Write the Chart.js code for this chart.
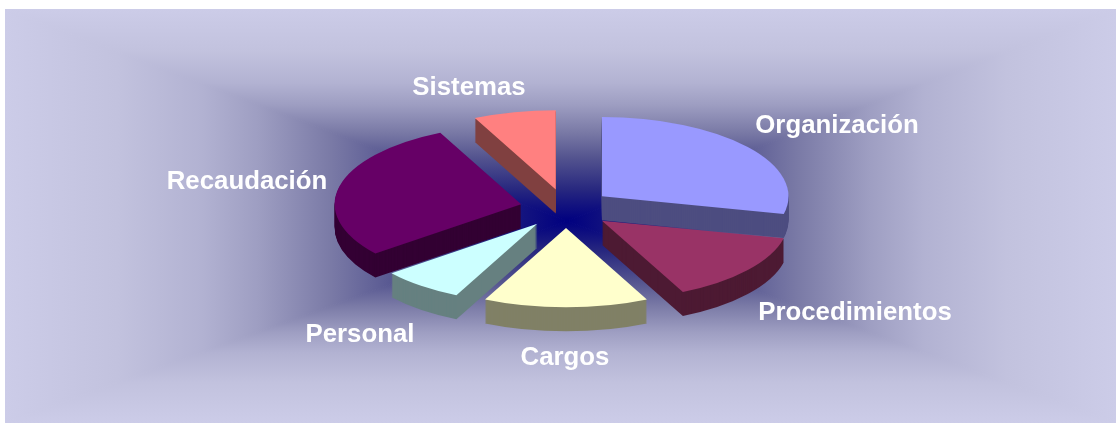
<!DOCTYPE html>
<html>
<head>
<meta charset="utf-8">
<title>Pie</title>
<script src="https://cdn.jsdelivr.net/npm/chart.js@4/dist/chart.umd.min.js"></script>
<style>
    html, body { margin: 0; padding: 0; background: #fff; }
    canvas { display: block; }
</style>
</head>
<body>
<canvas id="pie" width="1116" height="423"></canvas>
<script>
const categories = ['Organización', 'Procedimientos', 'Cargos', 'Personal', 'Recaudación', 'Sistemas'];
const values = [4, 2, 2, 1, 4, 1];
const topColors = ['#9999FF', '#993366', '#FFFFCC', '#CCFFFF', '#660066', '#FF8080'];
const sideColors = ['#4D4D80', '#4D1A33', '#808066', '#668080', '#330033', '#804040'];

// label centres, the original places them by hand too
const labelSpots = [[837, 126], [855, 313], [565, 358], [360, 335], [247, 182], [469, 88]];

const SQUASH = 0.425;
const DEPTH = 24;
const EXPLODE = 46;

// background: rectangular gradient running out of one point
const rampStops = [
    [0, '#000080'], [0.08, '#14147F'], [0.15, '#28287F'], [0.3, '#54548F'], [0.42, '#7A7AA6'],
    [0.55, '#9E9EC2'], [0.65, '#B2B2D2'], [0.8, '#C2C2DE'], [1, '#CCCCE8']
];

const panelPlugin = {
    id: 'panel',
    beforeDraw(chart) {
        const ctx = chart.ctx;
        const L = 5, T = 9, R = 1116, B = 423, fx = 567, fy = 221;
        const sides = [
            [[L, T], [R, T], [fx, T]],
            [[R, T], [R, B], [R, fy]],
            [[R, B], [L, B], [fx, B]],
            [[L, B], [L, T], [L, fy]]
        ];
        ctx.save();
        ctx.fillStyle = '#fff';
        ctx.fillRect(0, 0, chart.width, chart.height);
        ctx.beginPath();
        ctx.rect(L, T, R - L, B - T);
        ctx.clip();
        sides.forEach(([a, b, end]) => {
            const grad = ctx.createLinearGradient(fx, fy, end[0], end[1]);
            rampStops.forEach(s => grad.addColorStop(s[0], s[1]));
            ctx.fillStyle = grad;
            ctx.strokeStyle = grad; // hides the seam between triangles
            ctx.lineWidth = 1;
            ctx.beginPath();
            ctx.moveTo(fx, fy);
            ctx.lineTo(a[0], a[1]);
            ctx.lineTo(b[0], b[1]);
            ctx.closePath();
            ctx.fill();
            ctx.stroke();
        });
        ctx.restore();
    }
};

// flattens the pie, stacks the side walls, then lets each arc draw itself pulled out
const tiltPlugin = {
    id: 'tilt',
    beforeDatasetDraw(chart, args) {
        const ctx = chart.ctx;
        const arcs = args.meta.data;
        const cy = arcs[0].y;
        ctx.save();
        ctx.translate(0, cy);
        ctx.scale(1, SQUASH);
        ctx.translate(0, -cy);
        const shifts = arcs.map(arc => {
            const mid = (arc.startAngle + arc.endAngle) / 2;
            return [Math.cos(mid) * EXPLODE, Math.sin(mid) * EXPLODE];
        });
        arcs.forEach((arc, i) => {
            const px = arc.x + shifts[i][0];
            const py = arc.y + shifts[i][1];
            ctx.fillStyle = sideColors[i];
            for (let d = DEPTH; d >= 1; d--) {
                const dy = d / SQUASH;
                ctx.beginPath();
                ctx.moveTo(px, py + dy);
                ctx.arc(px, py + dy, arc.outerRadius, arc.startAngle, arc.endAngle);
                ctx.closePath();
                ctx.fill();
            }
        });
        arcs.forEach((arc, i) => {
            ctx.save();
            ctx.translate(shifts[i][0], shifts[i][1]);
            arc.draw(ctx);
            ctx.restore();
        });
        ctx.restore();
        return false;
    },
    afterDraw(chart) {
        const ctx = chart.ctx;
        ctx.save();
        ctx.font = 'bold 25.8px "Liberation Sans", Arial, sans-serif';
        ctx.fillStyle = '#fff';
        ctx.textAlign = 'center';
        ctx.textBaseline = 'middle';
        categories.forEach((name, i) => {
            ctx.fillText(name, labelSpots[i][0], labelSpots[i][1]);
        });
        ctx.restore();
    }
};

new Chart(document.getElementById('pie').getContext('2d'), {
    type: 'pie',
    data: {
        labels: categories,
        datasets: [{
            data: values,
            backgroundColor: topColors,
            borderWidth: 0,
            clip: false
        }]
    },
    options: {
        responsive: false,
        animation: false,
        radius: 186.5,
        layout: { padding: { left: 16, bottom: 6 } },
        plugins: {
            legend: { display: false },
            tooltip: { enabled: false }
        }
    },
    plugins: [panelPlugin, tiltPlugin]
});
</script>
</body>
</html>
